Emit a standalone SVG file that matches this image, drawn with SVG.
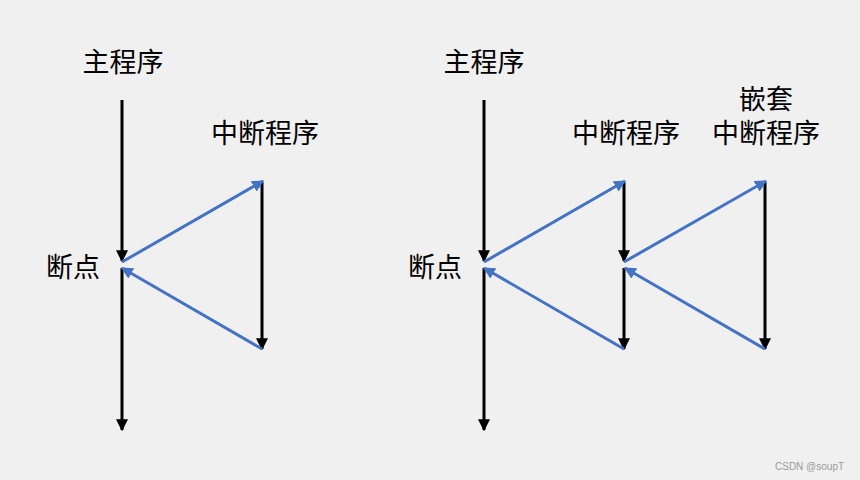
<svg xmlns="http://www.w3.org/2000/svg" width="860" height="480" viewBox="0 0 860 480">
<style>
.lbl{font-family:"Noto Sans CJK SC","Noto Sans",sans-serif;font-size:27px;fill:#000;text-anchor:middle}
.blk{stroke:#000;stroke-width:3;fill:none}
.blu{stroke:#4472C4;stroke-width:3;fill:none}
.wm{font-family:"Liberation Sans",Arial,sans-serif;font-size:10px;fill:#9a9a9a}
</style>
<defs>
<marker id="ab" viewBox="0 0 10 10" refX="9" refY="5" markerWidth="4" markerHeight="4" orient="auto" markerUnits="strokeWidth"><path d="M0,0 L10,5 L0,10 z" fill="#000"/></marker>
<marker id="au" viewBox="0 0 10 10" refX="9" refY="5" markerWidth="4" markerHeight="4" orient="auto" markerUnits="strokeWidth"><path d="M0,0 L10,5 L0,10 z" fill="#4472C4"/></marker>
</defs>
<rect width="860" height="480" fill="#f0f0f0"/>
<g id="labels">
<g id="main1"><text class="lbl" x="123" y="72">主程序</text></g>
<g id="isr1"><text class="lbl" x="265" y="143">中断程序</text></g>
<g id="bp1"><text class="lbl" x="73" y="277">断点</text></g>
<g id="main2"><text class="lbl" x="484" y="72">主程序</text></g>
<g id="isr2"><text class="lbl" x="626" y="143">中断程序</text></g>
<g id="nested"><text class="lbl" x="766" y="109">嵌套</text><text class="lbl" x="766" y="143">中断程序</text></g>
<g id="bp2"><text class="lbl" x="435" y="277">断点</text></g>
</g>
<g id="connectors">
<line class="blk" x1="122" y1="100" x2="122" y2="261" marker-end="url(#ab)"/>
<line class="blk" x1="122" y1="268" x2="122" y2="430" marker-end="url(#ab)"/>
<line class="blk" x1="262" y1="182" x2="262" y2="349" marker-end="url(#ab)"/>
<line class="blu" x1="122" y1="262" x2="263" y2="181" marker-end="url(#au)"/>
<line class="blu" x1="262" y1="349" x2="122" y2="268" marker-end="url(#au)"/>

<line class="blk" x1="484" y1="100" x2="484" y2="261" marker-end="url(#ab)"/>
<line class="blk" x1="484" y1="268" x2="484" y2="430" marker-end="url(#ab)"/>
<line class="blk" x1="624" y1="182" x2="624" y2="261" marker-end="url(#ab)"/>
<line class="blk" x1="624" y1="268" x2="624" y2="349" marker-end="url(#ab)"/>
<line class="blk" x1="765" y1="182" x2="765" y2="349" marker-end="url(#ab)"/>
<line class="blu" x1="484" y1="262" x2="625" y2="181" marker-end="url(#au)"/>
<line class="blu" x1="624" y1="349" x2="484" y2="268" marker-end="url(#au)"/>
<line class="blu" x1="624" y1="262" x2="766" y2="181" marker-end="url(#au)"/>
<line class="blu" x1="765" y1="349" x2="625" y2="268" marker-end="url(#au)"/>
</g>
<text class="wm" x="775" y="470">CSDN @soupT</text>
</svg>
